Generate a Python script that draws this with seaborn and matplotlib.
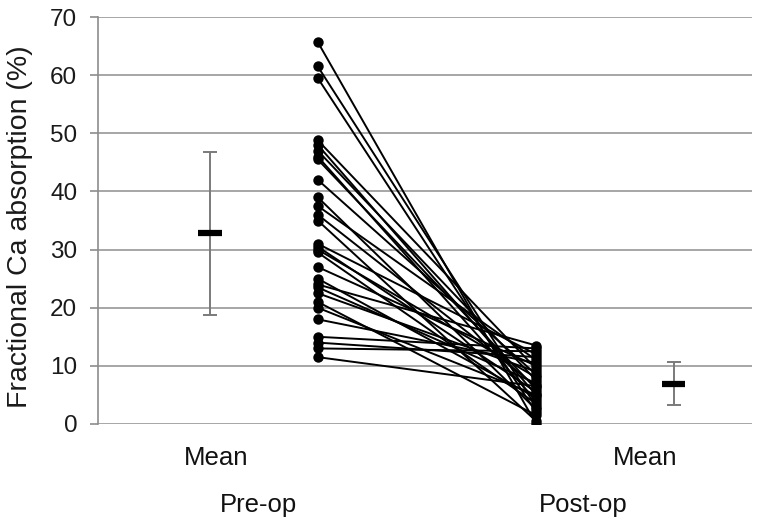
import matplotlib
matplotlib.use("Agg")
import matplotlib.pyplot as plt
import matplotlib.transforms as mtransforms
import seaborn as sns
import pandas as pd

# ---- data ----
pre_values = [65.7, 61.5, 59.5, 48.8, 48.0, 47.0, 46.0, 45.5, 42.0, 39.0,
              37.5, 36.0, 35.0, 31.0, 30.5, 30.0, 29.5, 27.0, 25.0, 24.0,
              23.5, 22.5, 21.0, 20.0, 18.0, 15.0, 14.0, 13.0, 11.5]
post_values = [0.0, 3.0, 2.0, 9.5, 5.0, 7.5, 4.0, 6.0, 8.5, 2.5,
               11.0, 6.5, 0.5, 12.0, 5.5, 8.0, 3.5, 10.0, 4.5, 13.5,
               7.0, 9.0, 1.5, 5.0, 10.5, 13.0, 11.5, 12.5, 6.5]
mean_values = [32.8, 6.9]
sd_values = [14.0, 3.7]
phase_labels = ["Pre-op", "Post-op"]
mean_label = "Mean"
y_label = "Fractional Ca absorption (%)"
y_ticks = [0, 10, 20, 30, 40, 50, 60, 70]

# ---- layout constants ----
x_pos = {"Pre-op": 0.336, "Post-op": 0.670}
mean_x = [0.171, 0.880]
phase_text_x = [0.245, 0.742]

rows = []
for i, (a, b) in enumerate(zip(pre_values, post_values)):
    rows.append({"subject": i, "phase": phase_labels[0], "value": a})
    rows.append({"subject": i, "phase": phase_labels[1], "value": b})
df = pd.DataFrame(rows)
df["x"] = df["phase"].map(x_pos)

sns.set_theme(style="white")
plt.rcParams["font.family"] = ["Liberation Sans", "DejaVu Sans"]

fig = plt.figure(figsize=(7.62, 5.28), dpi=100)
ax = fig.add_axes([98 / 762, 1 - 424 / 528, 654 / 762, 407 / 528])

sns.lineplot(data=df, x="x", y="value", units="subject", estimator=None,
             color="black", marker="o", markersize=7.5, linewidth=1.4,
             markeredgewidth=0, ax=ax, legend=False, zorder=3)

# mean +/- SD markers
for mx, m, s in zip(mean_x, mean_values, sd_values):
    ax.errorbar([mx], [m], yerr=[s], fmt="none", ecolor="#7a7a7a",
                elinewidth=1.4, capsize=5, capthick=1.4, zorder=2)
    ax.plot([mx - 0.018, mx + 0.018], [m, m], color="black",
            linewidth=4.5, solid_capstyle="butt", zorder=4)

ax.set_xlim(0, 1)
ax.set_ylim(0, 70)
ax.set_yticks(y_ticks)
ax.set_xticks([])
ax.set_xlabel("")
ax.set_ylabel(y_label, fontsize=20.5, color="#1a1a1a")
ax.yaxis.set_label_coords(-0.099, 0.485)
ax.grid(axis="y", color="#a6a6a6", linewidth=1.4)
ax.set_axisbelow(True)
for side in ["top", "right", "bottom"]:
    ax.spines[side].set_visible(False)
ax.spines["left"].set_color("#8c8c8c")
ax.spines["left"].set_linewidth(1.2)
ax.tick_params(axis="y", direction="out", length=6, width=1.2,
               color="#8c8c8c", labelsize=17.5, pad=9, left=True,
               labelcolor="#1a1a1a")

trans = mtransforms.blended_transform_factory(ax.transData, ax.transAxes)
for mx in [0.180, 0.836]:
    ax.text(mx, -0.084, mean_label, transform=trans, ha="center",
            va="center", fontsize=18.5, color="#111111")
for tx, lab in zip(phase_text_x, phase_labels):
    ax.text(tx, -0.200, lab, transform=trans, ha="center", va="center",
            fontsize=18.5, color="#111111")

fig.savefig("out.png", dpi=100, facecolor="white")
